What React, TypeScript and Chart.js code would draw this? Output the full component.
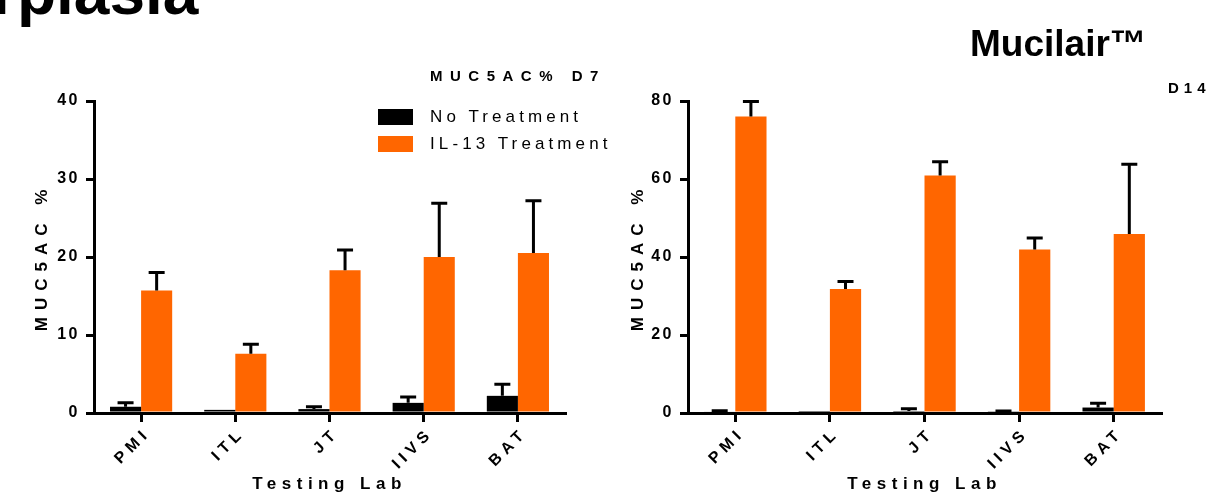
import React, { useEffect, useRef } from "react";
import { Chart, registerables } from "chart.js";

Chart.register(...registerables);

// ---- data ----
const labs = ["PMI", "ITL", "JT", "IIVS", "BAT"];
const seriesNames = ["No Treatment", "IL-13 Treatment"];

const d7NoTreatment = [0.8, 0.4, 0.5, 1.3, 2.2];
const d7NoTreatmentErr = [0.5, 0, 0.3, 0.75, 1.5];
const d7IL13 = [15.7, 7.6, 18.3, 20.0, 20.5];
const d7IL13Err = [2.3, 1.2, 2.6, 6.9, 6.7];

const d14NoTreatment = [0.4, 0.2, 0.5, 0.3, 1.4];
const d14NoTreatmentErr = [0.2, 0, 0.6, 0.2, 1.1];
const d14IL13 = [76.0, 31.8, 60.9, 41.9, 45.9];
const d14IL13Err = [3.9, 1.9, 3.5, 3.0, 17.9];

const d7Max = 40;
const d7Step = 10;
const d14Max = 80;
const d14Step = 20;

const yTitle = "MUC5AC %";
const xTitle = "Testing Lab";
const d7Title = "MUC5AC% D7";
const d14Title = "D14";
const pageTitle = "rplasia";
const brandTitle = "Mucilair\u2122";

// ---- styles ----
const FONT = "'Liberation Sans', Arial, Helvetica, sans-serif";
const seriesColors = ["#000000", "#FF6600"];

const errorBarPlugin = {
  id: "errorBars",
  afterDatasetsDraw(chart: any) {
    const ctx = chart.ctx;
    const y = chart.scales.y;
    chart.data.datasets.forEach((ds: any, di: number) => {
      const meta = chart.getDatasetMeta(di);
      const errs: number[] = ds.errors || [];
      meta.data.forEach((bar: any, i: number) => {
        const e = errs[i];
        if (!e) return;
        const v = ds.data[i];
        const top = y.getPixelForValue(v + e);
        const base = y.getPixelForValue(v);
        ctx.save();
        ctx.strokeStyle = "#000";
        ctx.lineWidth = 3;
        ctx.beginPath();
        ctx.moveTo(bar.x, base);
        ctx.lineTo(bar.x, top);
        ctx.moveTo(bar.x - 8, top);
        ctx.lineTo(bar.x + 8, top);
        ctx.stroke();
        ctx.restore();
      });
    });
  },
};

function patchSpacing(scale: any, tickSp: string, titleSp: string) {
  if (scale.__spaced) return;
  scale.__spaced = true;
  const dl = scale.drawLabels;
  const dt = scale.drawTitle;
  scale.drawLabels = function (area: any) {
    const ctx = this.ctx;
    ctx.save();
    ctx.letterSpacing = tickSp;
    dl.call(this, area);
    ctx.restore();
  };
  scale.drawTitle = function () {
    const ctx = this.ctx;
    ctx.save();
    ctx.letterSpacing = titleSp;
    dt.call(this);
    ctx.restore();
  };
}

function makeConfig(
  noT: number[],
  noTErr: number[],
  il: number[],
  ilErr: number[],
  yMax: number,
  step: number,
  yWidth: number,
  padRight: number,
  yTitlePad: number
): any {
  const tickFont = { family: FONT, size: 16, weight: "bold" };
  const titleFont = { family: FONT, size: 17, weight: "bold" };
  return {
    type: "bar",
    data: {
      labels: labs,
      datasets: [
        { label: seriesNames[0], data: noT, errors: noTErr, backgroundColor: seriesColors[0], borderWidth: 0 },
        { label: seriesNames[1], data: il, errors: ilErr, backgroundColor: seriesColors[1], borderWidth: 0 },
      ],
    },
    options: {
      responsive: false,
      animation: false,
      devicePixelRatio: 1,
      layout: { padding: { left: 0, right: padRight, top: 101, bottom: 0 } },
      datasets: { bar: { categoryPercentage: 0.66, barPercentage: 1 } },
      plugins: {
        legend: { display: false },
        title: { display: false },
        tooltip: { enabled: false },
      },
      scales: {
        x: {
          grid: { offset: false, drawOnChartArea: false, drawTicks: true, tickLength: 9, lineWidth: 3, color: "#000" },
          border: { display: true, color: "#000", width: 3 },
          ticks: { color: "#000", font: tickFont, minRotation: 45, maxRotation: 45, padding: 2, labelOffset: 7 },
          title: { display: true, text: xTitle, color: "#000", font: titleFont, padding: { top: 0, bottom: 0 } },
          afterFit: (s: any) => {
            s.height = 82;
            patchSpacing(s, "5px", "5.5px");
          },
        },
        y: {
          min: 0,
          max: yMax,
          ticks: { stepSize: step, color: "#000", font: tickFont, padding: 6 },
          grid: { drawOnChartArea: false, drawTicks: true, tickLength: 8, lineWidth: 3, color: "#000" },
          border: { display: true, color: "#000", width: 3 },
          title: { display: true, text: yTitle, color: "#000", font: titleFont, padding: { top: yTitlePad, bottom: 0 } },
          afterFit: (s: any) => {
            s.width = yWidth;
            patchSpacing(s, "2.5px", "7px");
          },
        },
      },
    },
    plugins: [errorBarPlugin],
  };
}

export default function App() {
  const leftRef = useRef<HTMLCanvasElement>(null);
  const rightRef = useRef<HTMLCanvasElement>(null);

  useEffect(() => {
    const c1 = new Chart(
      leftRef.current as HTMLCanvasElement,
      makeConfig(d7NoTreatment, d7NoTreatmentErr, d7IL13, d7IL13Err, d7Max, d7Step, 94, 35, 32)
    );
    const c2 = new Chart(
      rightRef.current as HTMLCanvasElement,
      makeConfig(d14NoTreatment, d14NoTreatmentErr, d14IL13, d14IL13Err, d14Max, d14Step, 88, 46, 28)
    );
    return () => {
      c1.destroy();
      c2.destroy();
    };
  }, []);

  return (
    <div
      style={{
        position: "fixed",
        left: 0,
        top: 0,
        width: 1207,
        height: 495,
        overflow: "hidden",
        background: "#fff",
        fontFamily: FONT,
        color: "#000",
      }}
    >
      <canvas ref={leftRef} width={600} height={495} style={{ position: "absolute", left: 0, top: 0, width: 600, height: 495 }} />
      <canvas ref={rightRef} width={607} height={495} style={{ position: "absolute", left: 600, top: 0, width: 607, height: 495 }} />

      <div style={{ position: "absolute", left: -8, top: -40, fontSize: 64, fontWeight: "bold", lineHeight: 1, whiteSpace: "nowrap" }}>
        {pageTitle}
      </div>
      <div style={{ position: "absolute", left: 970, top: 25, fontSize: 37, fontWeight: "bold", lineHeight: 1, whiteSpace: "nowrap" }}>
        {brandTitle}
      </div>
      <div style={{ position: "absolute", left: 430, top: 67, fontSize: 15, fontWeight: "bold", letterSpacing: "7.5px", lineHeight: "17px", whiteSpace: "nowrap" }}>
        {d7Title}
      </div>
      <div style={{ position: "absolute", left: 1168, top: 79, fontSize: 15, fontWeight: "bold", letterSpacing: "5px", lineHeight: "17px", whiteSpace: "nowrap" }}>
        {d14Title}
      </div>

      <div style={{ position: "absolute", left: 378, top: 103 }}>
        {seriesNames.map((n, i) => (
          <div key={n} style={{ display: "flex", alignItems: "center", height: 27.5 }}>
            <span style={{ display: "inline-block", width: 35, height: 16, background: seriesColors[i], marginRight: 17 }} />
            <span style={{ fontSize: 17, letterSpacing: "4.1px", whiteSpace: "nowrap" }}>{n}</span>
          </div>
        ))}
      </div>
    </div>
  );
}
